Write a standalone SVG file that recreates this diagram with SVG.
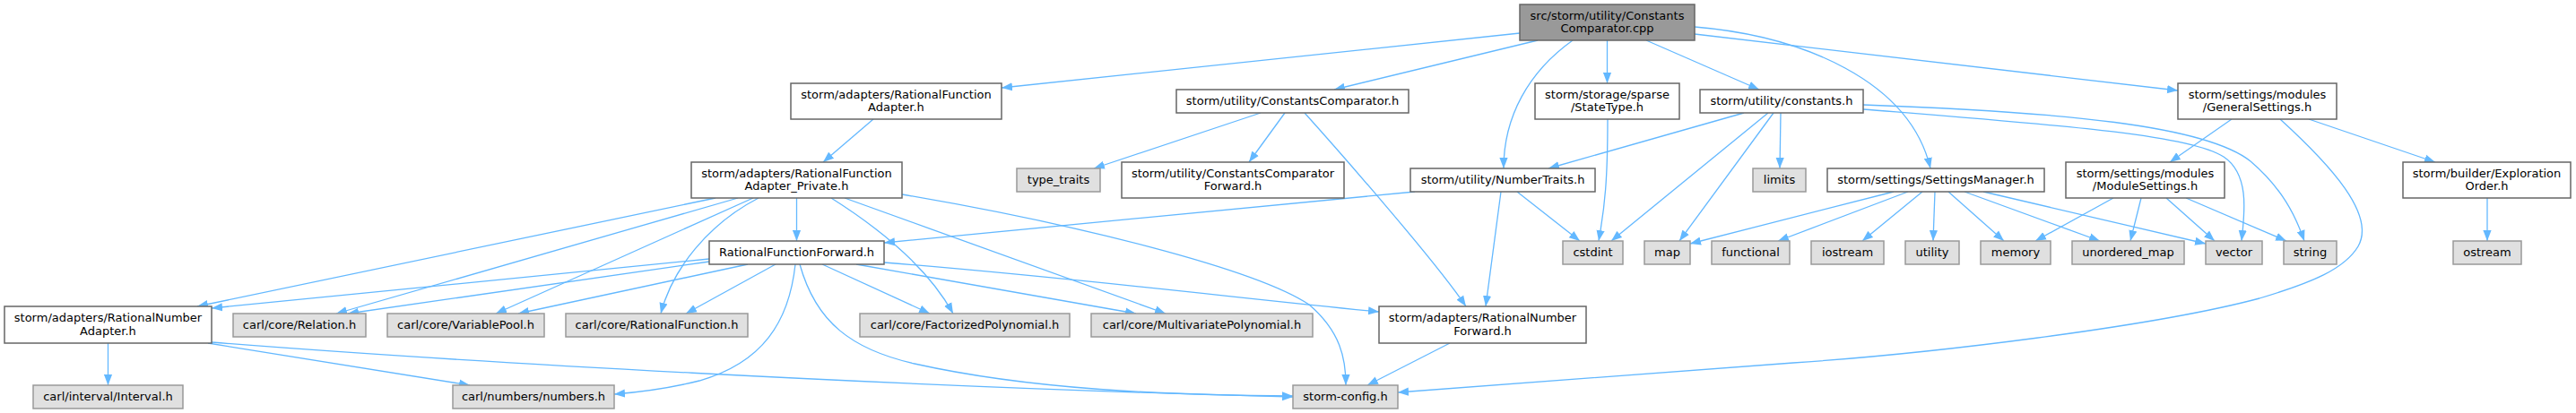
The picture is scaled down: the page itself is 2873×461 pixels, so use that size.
<svg xmlns="http://www.w3.org/2000/svg" width="2873" height="461" viewBox="0 0 2873 461">
<style>
.e{fill:none;stroke:#63b8ff;stroke-width:1.3;marker-end:url(#ah)}
.n rect{fill:#ffffff;stroke:#666666;stroke-width:1.5}
.g rect{fill:#e0e0e0;stroke:#999999;stroke-width:1.5}
.m rect{fill:#999999;stroke:#666666;stroke-width:1.5}
text{font-family:"DejaVu Sans",sans-serif;font-size:13px;text-anchor:middle;fill:#000000}
</style>
<defs>
<marker id="ah" markerWidth="12" markerHeight="10" refX="12" refY="5" orient="auto" markerUnits="userSpaceOnUse">
<path d="M0,0.4 L12,5 L0,9.6 z" fill="#63b8ff"/>
</marker>
</defs>
<rect x="0" y="0" width="2873" height="461" fill="#ffffff"/>
<g id="edges">
<path class="e" d="M1695,37 L1117,98"/>
<path class="e" d="M1715,45 L1488,100"/>
<path class="e" d="M1754,45 C1705,80 1677,130 1677,188"/>
<path class="e" d="M1792.5,45 L1792.5,93"/>
<path class="e" d="M1836,45 L1962,100"/>
<path class="e" d="M1890,30 C2010,40 2130,90 2153,188"/>
<path class="e" d="M1890,38 L2429,101"/>
<path class="e" d="M974,133 L918,181"/>
<path class="e" d="M1406,126 L1220,188"/>
<path class="e" d="M1433,126 L1393,181"/>
<path class="e" d="M1455,126 C1490,165 1600,290 1635,342"/>
<path class="e" d="M1578,214 L986,271"/>
<path class="e" d="M1692,214 L1762,269"/>
<path class="e" d="M1674,214 L1657,342"/>
<path class="e" d="M1793,133 C1793,200 1790,230 1783,269"/>
<path class="e" d="M1945,126 L1727,188"/>
<path class="e" d="M1972,126 L1797,269"/>
<path class="e" d="M1978,126 L1873,269"/>
<path class="e" d="M1986,126 L1985,188"/>
<path class="e" d="M2078,122 C2300,140 2440,150 2480,175 C2510,195 2503,240 2500,269"/>
<path class="e" d="M2078,117 C2300,125 2460,140 2510,180 C2545,210 2560,240 2570,269"/>
<path class="e" d="M2112,214 L1885,272"/>
<path class="e" d="M2128,214 L1983,269"/>
<path class="e" d="M2144,214 L2077,269"/>
<path class="e" d="M2158,214 L2156,269"/>
<path class="e" d="M2173,214 L2235,269"/>
<path class="e" d="M2191,214 L2342,269"/>
<path class="e" d="M2212,214 L2460,272"/>
<path class="e" d="M2357,221 L2270,269"/>
<path class="e" d="M2388,221 L2376,269"/>
<path class="e" d="M2416,221 L2470,269"/>
<path class="e" d="M2438,221 L2550,269"/>
<path class="e" d="M2489,133 L2420,181"/>
<path class="e" d="M2575,133 L2716,181"/>
<path class="e" d="M2543,133 C2600,185 2650,240 2630,275 C2615,300 2580,315 2520,333 C2400,365 2150,395 2000,405 C1800,420 1650,432 1559,438"/>
<path class="e" d="M2774,221 L2774,269"/>
<path class="e" d="M798,221 L220,342"/>
<path class="e" d="M823,221 L375,350"/>
<path class="e" d="M840,221 L553,350"/>
<path class="e" d="M846,221 C790,250 750,300 737,350"/>
<path class="e" d="M888.5,221 L888.5,269"/>
<path class="e" d="M927,221 C965,245 1030,290 1063,350"/>
<path class="e" d="M942,221 L1300,350"/>
<path class="e" d="M1006,217 C1200,250 1400,300 1460,340 C1495,370 1501,400 1501,430"/>
<path class="e" d="M791,289 L236,344"/>
<path class="e" d="M791,292 L388,350"/>
<path class="e" d="M834,295 L578,350"/>
<path class="e" d="M865,295 L765,350"/>
<path class="e" d="M917,295 L1037,350"/>
<path class="e" d="M955,295 L1267,350"/>
<path class="e" d="M887,295 C880,360 850,405 780,425 C740,435 710,438 685,440"/>
<path class="e" d="M892,295 C910,360 950,390 1020,406 C1150,435 1300,441 1442,442"/>
<path class="e" d="M986,293 C1200,310 1400,335 1538,348"/>
<path class="e" d="M120.5,383 L120.5,430"/>
<path class="e" d="M232,383 L524,430"/>
<path class="e" d="M236,382 C500,403 1000,432 1442,443"/>
<path class="e" d="M1617,383 L1525,430"/>
</g>
<g id="node-main" class="m"><rect x="1695" y="5" width="195" height="40"/><text x="1792.5" y="21.7">src/storm/utility/Constants</text><text x="1792.5" y="36.2">Comparator.cpp</text></g>
<g id="node-rfa" class="n"><rect x="882" y="93" width="235" height="40"/><text x="999.5" y="109.7">storm/adapters/RationalFunction</text><text x="999.5" y="124.2">Adapter.h</text></g>
<g id="node-cc" class="n"><rect x="1312" y="100" width="259" height="26"/><text x="1441.5" y="117">storm/utility/ConstantsComparator.h</text></g>
<g id="node-st" class="n"><rect x="1712" y="93" width="161" height="40"/><text x="1792.5" y="109.7">storm/storage/sparse</text><text x="1792.5" y="124.2">/StateType.h</text></g>
<g id="node-con" class="n"><rect x="1896" y="100" width="182" height="26"/><text x="1987" y="117">storm/utility/constants.h</text></g>
<g id="node-gs" class="n"><rect x="2429" y="93" width="177" height="40"/><text x="2517.5" y="109.7">storm/settings/modules</text><text x="2517.5" y="124.2">/GeneralSettings.h</text></g>
<g id="node-rfap" class="n"><rect x="771" y="181" width="235" height="40"/><text x="888.5" y="197.7">storm/adapters/RationalFunction</text><text x="888.5" y="212.2">Adapter_Private.h</text></g>
<g id="node-tt" class="g"><rect x="1134" y="188" width="93" height="26"/><text x="1180.5" y="205">type_traits</text></g>
<g id="node-ccf" class="n"><rect x="1251" y="181" width="248" height="40"/><text x="1375" y="197.7">storm/utility/ConstantsComparator</text><text x="1375" y="212.2">Forward.h</text></g>
<g id="node-nt" class="n"><rect x="1573" y="188" width="206" height="26"/><text x="1676" y="205">storm/utility/NumberTraits.h</text></g>
<g id="node-lim" class="g"><rect x="1955" y="188" width="59" height="26"/><text x="1984.5" y="205">limits</text></g>
<g id="node-sm" class="n"><rect x="2038" y="188" width="242" height="26"/><text x="2159" y="205">storm/settings/SettingsManager.h</text></g>
<g id="node-ms" class="n"><rect x="2304" y="181" width="177" height="40"/><text x="2392.5" y="197.7">storm/settings/modules</text><text x="2392.5" y="212.2">/ModuleSettings.h</text></g>
<g id="node-eo" class="n"><rect x="2680" y="181" width="187" height="40"/><text x="2773.5" y="197.7">storm/builder/Exploration</text><text x="2773.5" y="212.2">Order.h</text></g>
<g id="node-rff" class="n"><rect x="791" y="269" width="195" height="26"/><text x="888.5" y="286">RationalFunctionForward.h</text></g>
<g id="node-cst" class="g"><rect x="1743" y="269" width="67" height="26"/><text x="1776.5" y="286">cstdint</text></g>
<g id="node-map" class="g"><rect x="1834" y="269" width="51" height="26"/><text x="1859.5" y="286">map</text></g>
<g id="node-fun" class="g"><rect x="1909" y="269" width="87" height="26"/><text x="1952.5" y="286">functional</text></g>
<g id="node-ios" class="g"><rect x="2020" y="269" width="81" height="26"/><text x="2060.5" y="286">iostream</text></g>
<g id="node-utl" class="g"><rect x="2125" y="269" width="60" height="26"/><text x="2155" y="286">utility</text></g>
<g id="node-mem" class="g"><rect x="2209" y="269" width="78" height="26"/><text x="2248" y="286">memory</text></g>
<g id="node-umap" class="g"><rect x="2311" y="269" width="125" height="26"/><text x="2373.5" y="286">unordered_map</text></g>
<g id="node-vec" class="g"><rect x="2460" y="269" width="63" height="26"/><text x="2491.5" y="286">vector</text></g>
<g id="node-str" class="g"><rect x="2547" y="269" width="59" height="26"/><text x="2576.5" y="286">string</text></g>
<g id="node-ost" class="g"><rect x="2736" y="269" width="76" height="26"/><text x="2774" y="286">ostream</text></g>
<g id="node-rna" class="n"><rect x="5" y="342" width="231" height="41"/><text x="120.5" y="359.2">storm/adapters/RationalNumber</text><text x="120.5" y="373.7">Adapter.h</text></g>
<g id="node-rel" class="g"><rect x="260" y="350" width="148" height="26"/><text x="334" y="367">carl/core/Relation.h</text></g>
<g id="node-vp" class="g"><rect x="432" y="350" width="175" height="26"/><text x="519.5" y="367">carl/core/VariablePool.h</text></g>
<g id="node-rf" class="g"><rect x="631" y="350" width="203" height="26"/><text x="732.5" y="367">carl/core/RationalFunction.h</text></g>
<g id="node-fp" class="g"><rect x="959" y="350" width="234" height="26"/><text x="1076" y="367">carl/core/FactorizedPolynomial.h</text></g>
<g id="node-mp" class="g"><rect x="1217" y="350" width="247" height="26"/><text x="1340.5" y="367">carl/core/MultivariatePolynomial.h</text></g>
<g id="node-rnf" class="n"><rect x="1538" y="342" width="231" height="41"/><text x="1653.5" y="359.2">storm/adapters/RationalNumber</text><text x="1653.5" y="373.7">Forward.h</text></g>
<g id="node-int" class="g"><rect x="37" y="430" width="167" height="26"/><text x="120.5" y="447">carl/interval/Interval.h</text></g>
<g id="node-num" class="g"><rect x="505" y="430" width="180" height="26"/><text x="595" y="447">carl/numbers/numbers.h</text></g>
<g id="node-cfg" class="g"><rect x="1442" y="430" width="117" height="26"/><text x="1500.5" y="447">storm-config.h</text></g>
</svg>
